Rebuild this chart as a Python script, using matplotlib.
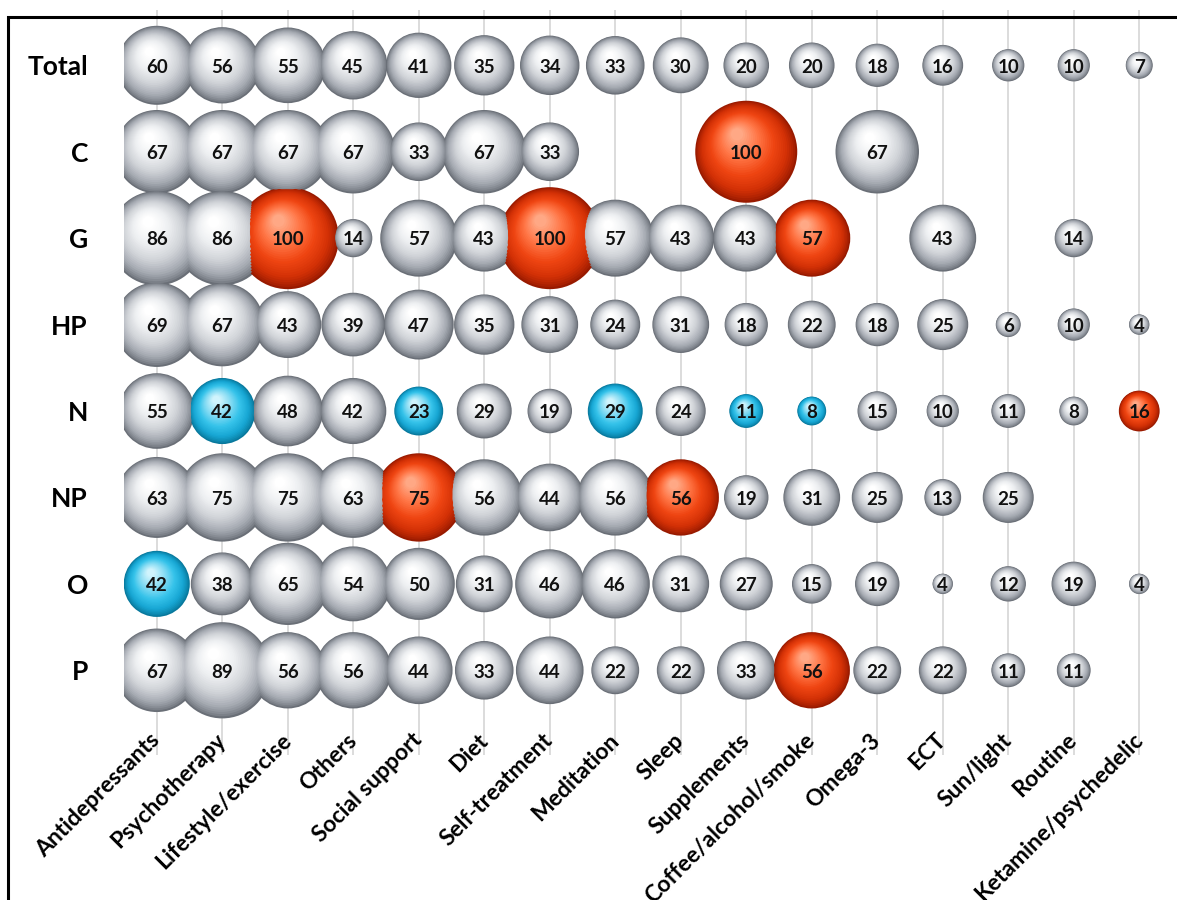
import numpy as np
import matplotlib
matplotlib.use("Agg")
import matplotlib.pyplot as plt
from matplotlib.colors import to_rgb
from matplotlib.patches import Rectangle


OUTPUT_PATH = "out.png"

treatments = [
    "Antidepressants", "Psychotherapy", "Lifestyle/exercise", "Others",
    "Social support", "Diet", "Self-treatment", "Meditation", "Sleep",
    "Supplements", "Coffee/alcohol/smoke", "Omega-3", "ECT", "Sun/light",
    "Routine", "Ketamine/psychedelic",
]
groups = ["Total", "C", "G", "HP", "N", "NP", "O", "P"]

# percentages per group, None = no bubble
total = [60, 56, 55, 45, 41, 35, 34, 33, 30, 20, 20, 18, 16, 10, 10, 7]
c_vals = [67, 67, 67, 67, 33, 67, 33, None, None, 100, None, 67, None, None, None, None]
g_vals = [86, 86, 100, 14, 57, 43, 100, 57, 43, 43, 57, None, 43, None, 14, None]
hp_vals = [69, 67, 43, 39, 47, 35, 31, 24, 31, 18, 22, 18, 25, 6, 10, 4]
n_vals = [55, 42, 48, 42, 23, 29, 19, 29, 24, 11, 8, 15, 10, 11, 8, 16]
np_vals = [63, 75, 75, 63, 75, 56, 44, 56, 56, 19, 31, 25, 13, 25, None, None]
o_vals = [42, 38, 65, 54, 50, 31, 46, 46, 31, 27, 15, 19, 4, 12, 19, 4]
p_vals = [67, 89, 56, 56, 44, 33, 44, 22, 22, 33, 56, 22, 22, 11, 11, None]

# cells marked higher (red) / lower (blue) than total
higher = [("C", "Supplements"), ("G", "Lifestyle/exercise"), ("G", "Self-treatment"),
          ("G", "Coffee/alcohol/smoke"), ("N", "Ketamine/psychedelic"),
          ("NP", "Social support"), ("NP", "Sleep"), ("P", "Coffee/alcohol/smoke")]
lower = [("N", "Psychotherapy"), ("N", "Social support"), ("N", "Meditation"),
         ("N", "Supplements"), ("N", "Coffee/alcohol/smoke"), ("O", "Antidepressants")]

PALETTES = {
    "grey": ["#6a6f77", "#a4a9b1", "#d0d3d8", "#eef0f2", "#ffffff"],
    "red": ["#981a00", "#d23006", "#ef4512", "#ff7444", "#ffa885"],
    "blue": ["#08789c", "#17a6d3", "#36c3ea", "#88ddf4", "#d0f4fd"],
}


def blend(stops, t):
    stops = [np.array(to_rgb(s)) for s in stops]
    pos = np.linspace(0, 1, len(stops))
    i = min(np.searchsorted(pos, t, side="right") - 1, len(stops) - 2)
    f = (t - pos[i]) / (pos[i + 1] - pos[i])
    return tuple(stops[i] * (1 - f) + stops[i + 1] * f)


def main():
    rows = [total, c_vals, g_vals, hp_vals, n_vals, np_vals, o_vals, p_vals]

    xs, ys, vals, kinds = [], [], [], []
    for j, (grp, row) in enumerate(zip(groups, rows)):
        for i, v in enumerate(row):
            if v is None:
                continue
            kind = "grey"
            if (grp, treatments[i]) in higher:
                kind = "red"
            elif (grp, treatments[i]) in lower:
                kind = "blue"
            xs.append(i)
            ys.append(j)
            vals.append(v)
            kinds.append(kind)
    xs = np.array(xs, float)
    ys = np.array(ys, float)
    vals = np.array(vals, float)
    kinds = np.array(kinds)

    W, H, DPI = 1177, 900, 100
    fig = plt.figure(figsize=(W / DPI, H / DPI), dpi=DPI)
    left, right, top, bottom = 124 / W, 1172 / W, 1 - 10 / H, 1 - 755 / H
    ax = fig.add_axes([left, bottom, right - left, top - bottom])

    xlim = (-0.5, 15.5)
    ylim = (7.98, -0.64)
    ax.set_xlim(xlim)
    ax.set_ylim(ylim)
    px_x = W * (right - left) / (xlim[1] - xlim[0])
    px_y = H * (top - bottom) / (ylim[0] - ylim[1])

    # shaded spheres: stacked discs, lighter and shifted up-left
    diam_px = 10.2 * np.sqrt(vals)
    n_layers = 28
    for k in range(n_layers):
        t = k / (n_layers - 1)
        scale = 1 - 0.88 * t
        off = 0.2 * diam_px * t
        ox = -0.45 * off / px_x
        oy = -0.85 * off / px_y
        for kind, stops in PALETTES.items():
            m = kinds == kind
            if not m.any():
                continue
            size = (diam_px[m] * scale * 72 / DPI) ** 2
            ax.scatter(xs[m] + ox[m], ys[m] + oy[m], s=size,
                       color=blend(stops, t ** 0.8), linewidths=0, zorder=3 + k * 0.01)

    for x, y, v in zip(xs, ys, vals):
        ax.text(x, y + 0.02, f"{int(v)}", ha="center", va="center",
                fontsize=13.5, fontweight="bold", family="Lato", color="#111111", zorder=10)

    ax.set_xticks(range(len(treatments)))
    ax.set_xticklabels(treatments, rotation=45, ha="right", va="center",
                       rotation_mode="anchor", fontsize=16.5, fontweight="bold", family="Lato")
    ax.set_yticks(range(len(groups)))
    ax.set_yticklabels(groups, fontsize=19, fontweight="bold", family="Lato")
    ax.tick_params(axis="both", length=0)
    ax.tick_params(axis="x", pad=-13)
    ax.tick_params(axis="y", pad=26)
    for sp in ax.spines.values():
        sp.set_visible(False)
    ax.grid(axis="x", color="#dcdcdc", linewidth=1.4, zorder=0)
    ax.set_axisbelow(True)

    frame = Rectangle((8 / W, -0.1), 1.2, 1 - 17 / H + 0.1, transform=fig.transFigure,
                      fill=False, edgecolor="black", linewidth=2.2)
    fig.patches.append(frame)

    fig.savefig(OUTPUT_PATH, dpi=DPI)


if __name__ == "__main__":
    main()
